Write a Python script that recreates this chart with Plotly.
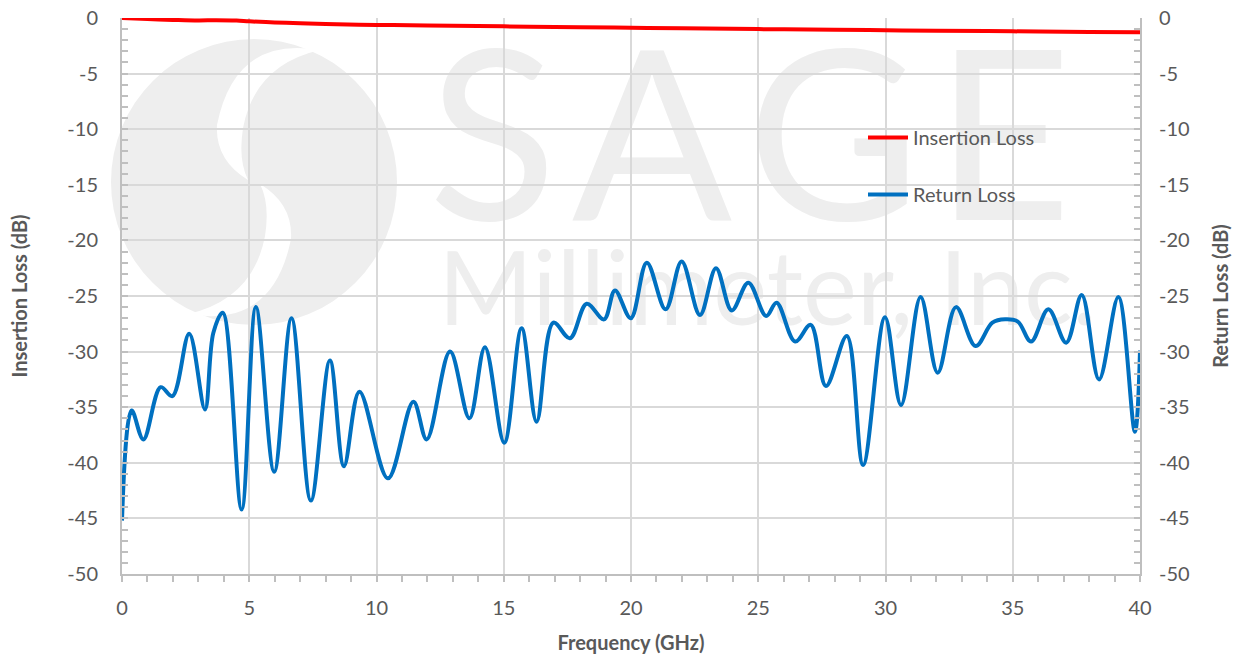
import plotly.graph_objects as go

# ---- data ----
freq_rl = [0.0, 0.38, 0.84, 1.52, 1.98, 2.64, 3.26, 3.59, 3.96, 4.70, 5.26, 5.98, 6.66,
           7.42, 8.17, 8.72, 9.33, 10.45, 11.45, 11.97, 12.89, 13.65, 14.26, 15.02,
           15.70, 16.29, 16.95, 17.60, 18.26, 18.94, 19.37, 19.99, 20.62, 21.36,
           21.99, 22.71, 23.34, 23.96, 24.61, 25.31, 25.72, 26.45, 27.06, 27.66,
           28.48, 29.12, 29.98, 30.61, 31.38, 32.05, 32.77, 33.54, 34.2, 34.7, 35.2,
           35.72, 36.4, 37.1, 37.71, 38.39, 39.15, 39.80, 40.0]
return_loss = [-45.2, -35.3, -37.9, -33.2, -34.0, -28.4, -35.2, -28.3, -26.5, -44.2,
               -26.0, -40.8, -27.0, -43.4, -30.8, -40.3, -33.6, -41.4, -34.5, -37.9,
               -30.0, -36.0, -29.6, -38.2, -27.9, -36.3, -27.4, -28.8, -25.7, -27.1,
               -24.5, -27.0, -22.0, -26.2, -21.9, -26.7, -22.5, -26.3, -23.8, -26.8,
               -25.6, -29.1, -27.6, -33.1, -28.6, -40.2, -26.9, -34.8, -25.1, -31.9,
               -26.0, -29.5, -27.4, -27.1, -27.3, -29.1, -26.2, -29.2, -24.9, -32.5,
               -25.1, -37.2, -29.9]

freq_il = [0, 1, 2, 3, 3.7, 4.5, 5, 6, 7, 8, 10, 12, 15, 18, 20, 22, 25, 28, 30, 32, 35, 38, 40]
insertion_loss = [0.0, -0.1, -0.17, -0.22, -0.2, -0.23, -0.3, -0.4, -0.48, -0.55, -0.62,
                  -0.67, -0.75, -0.83, -0.88, -0.93, -1.0, -1.06, -1.1, -1.14, -1.2,
                  -1.25, -1.28]

x_ticks = [0, 5, 10, 15, 20, 25, 30, 35, 40]
y_ticks = [0, -5, -10, -15, -20, -25, -30, -35, -40, -45, -50]

# ---- figure ----
W, H = 1244, 660
L, R, T, B = 122, 1140, 18, 574


def px(x):
    return (x - L) / (R - L)


def py(y):
    return (B - y) / (B - T)


def P(x, y):
    return f"{px(x):.4f},{py(y):.4f}"


fig = go.Figure()
fig.add_trace(go.Scatter(x=freq_il, y=insertion_loss, name="Insertion Loss", mode="lines",
                         line=dict(color="#ff0000", width=4, shape="spline"),
                         legendgroup="il"))
fig.add_trace(go.Scatter(x=freq_rl, y=return_loss, name="Return Loss", mode="lines",
                         line=dict(color="#0070c0", width=4, shape="spline", smoothing=1),
                         legendgroup="rl", yaxis="y2"))

wm = "#eeeeee"
shapes = [
    dict(type="circle", xref="paper", yref="paper", x0=px(111), x1=px(397), y0=py(325), y1=py(39),
         fillcolor=wm, line=dict(width=0), layer="below"),
    dict(type="path", xref="paper", yref="paper", layer="below", fillcolor="white", line=dict(width=0),
         path=f"M {P(320,50)} Q {P(235,35)} {P(217,125)} Q {P(215,160)} {P(248,180)} "
              f"Q {P(238,160)} {P(243,128)} Q {P(255,65)} {P(320,50)} Z"),
    dict(type="path", xref="paper", yref="paper", layer="below", fillcolor="white", line=dict(width=0),
         path=f"M {P(188,314)} Q {P(273,329)} {P(291,239)} Q {P(293,204)} {P(260,184)} "
              f"Q {P(270,204)} {P(265,236)} Q {P(253,299)} {P(188,314)} Z"),
    dict(type="rect", xref="paper", yref="paper", x0=px(420), x1=px(1080), y0=py(230), y1=py(20),
         line=dict(width=0), fillcolor="rgba(0,0,0,0)", layer="below",
         label=dict(text="S\u200aA\u200aG\u200aE", textposition="middle center",
                    font=dict(size=237, color=wm, family="Lato"))),
    dict(type="rect", xref="paper", yref="paper", x0=px(425), x1=px(1110), y0=py(330), y1=py(238),
         line=dict(width=0), fillcolor="rgba(0,0,0,0)", layer="below",
         label=dict(text="Millimeter, Inc.", textposition="middle center",
                    font=dict(size=102, color=wm, family="Lato"))),
]

tick_font = dict(family="Lato, Open Sans, sans-serif", size=20, color="#595959")
title_font = dict(family="Lato, Open Sans, sans-serif", size=20, color="#595959", weight="bold")
grid_c = "#d9d9d9"
axis_c = "#bfbfbf"

common_y = dict(range=[-50, 0], tickvals=y_ticks, ticktext=[str(v) for v in y_ticks],
                showline=True, linecolor=axis_c, linewidth=2, zeroline=False,
                ticks="inside", ticklen=6, tickcolor=axis_c, tickwidth=1.5,
                minor=dict(dtick=1, ticks="inside", ticklen=6, tickcolor=axis_c, tickwidth=1.5, showgrid=False),
                tickfont=tick_font, automargin=False)

fig.update_layout(
    width=W, height=H,
    margin=dict(l=L, r=W - R, t=T, b=H - B, pad=0, autoexpand=False),
    paper_bgcolor="white", plot_bgcolor="white",
    shapes=shapes,
    showlegend=True,
    legend=dict(x=px(863), y=py(118), xanchor="left", yanchor="top",
                bgcolor="rgba(0,0,0,0)", font=dict(family="Lato, Open Sans, sans-serif", size=20, color="#595959"),
                tracegroupgap=28, itemwidth=40),
    xaxis=dict(range=[0, 40], tickvals=x_ticks, ticktext=[str(v) for v in x_ticks],
               showgrid=True, gridcolor=grid_c, gridwidth=1.5,
               showline=True, linecolor=axis_c, linewidth=2, zeroline=False,
               ticks="outside", ticklen=6, tickcolor=axis_c, tickwidth=1.5,
               minor=dict(dtick=1, ticks="outside", ticklen=6, tickcolor=axis_c, tickwidth=1.5, showgrid=False),
               tickfont=tick_font, ticklabelstandoff=9, automargin=False,
               title=dict(text="Frequency (GHz)", font=title_font, standoff=18)),
    yaxis=dict(**common_y, showgrid=True, gridcolor=grid_c, gridwidth=1.5, ticklabelstandoff=18,
               title=dict(text="Insertion Loss (dB)", font=title_font, standoff=34)),
    yaxis2=dict(**common_y, overlaying="y", side="right", showgrid=False, ticklabelstandoff=13,
                title=dict(text="Return Loss (dB)", font=title_font, standoff=25)),
)

fig.write_html("out.html", config={"displayModeBar": False},
               post_script="document.body.style.margin='0';")
